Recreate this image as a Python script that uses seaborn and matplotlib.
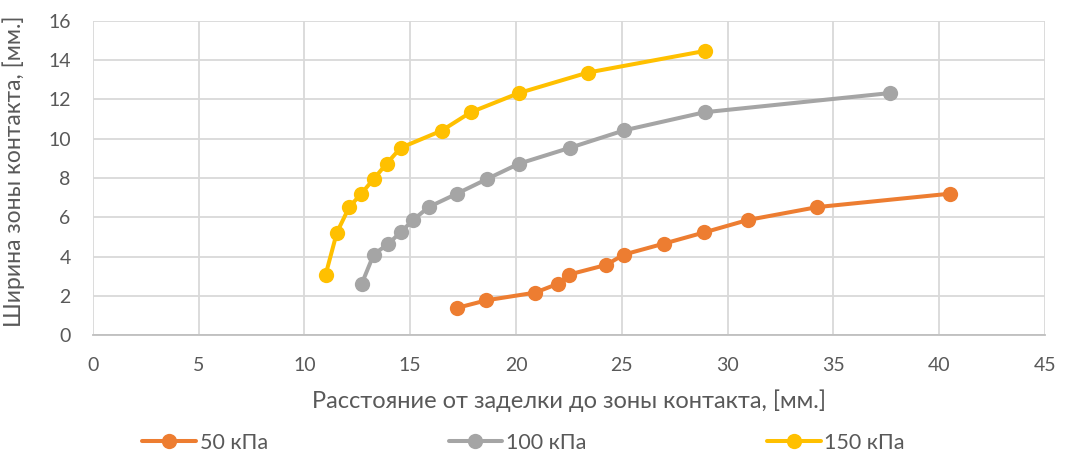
import pandas as pd
import numpy as np
import matplotlib
matplotlib.use("Agg")
import matplotlib.pyplot as plt
import seaborn as sns

# Data
x_50 = [17.2, 18.6, 20.9, 22.0, 22.5, 24.25, 25.1, 27.0, 28.9, 30.95, 34.25, 40.5]
y_50 = [1.38, 1.77, 2.16, 2.62, 3.08, 3.57, 4.1, 4.66, 5.23, 5.86, 6.52, 7.2]

x_100 = [12.7, 13.27, 13.97, 14.55, 15.13, 15.87, 17.2, 18.63, 20.14, 22.55, 25.12, 28.91, 37.7]
y_100 = [2.6, 4.1, 4.66, 5.24, 5.86, 6.52, 7.2, 7.95, 8.73, 9.54, 10.43, 11.35, 12.33]

x_150 = [11.0, 11.53, 12.11, 12.69, 13.27, 13.88, 14.55, 16.48, 17.86, 20.14, 23.39, 28.91]
y_150 = [3.08, 5.22, 6.51, 7.21, 7.95, 8.73, 9.54, 10.41, 11.35, 12.33, 13.37, 14.47]

series_names = ["50 кПа", "100 кПа", "150 кПа"]
colors = ["#ED7D31", "#A5A5A5", "#FFC000"]

df = pd.concat([
    pd.DataFrame({"x": x_50, "y": y_50, "series": series_names[0]}),
    pd.DataFrame({"x": x_100, "y": y_100, "series": series_names[1]}),
    pd.DataFrame({"x": x_150, "y": y_150, "series": series_names[2]}),
], ignore_index=True)

sns.set_style("white")
plt.rcParams["font.family"] = ["Lato", "DejaVu Sans"]
text_color = "#595959"

fig = plt.figure(figsize=(10.66, 4.66), dpi=100)
ax = fig.add_axes([0.0872, 0.281, 0.8930, 0.674])

sns.lineplot(data=df, x="x", y="y", hue="series", hue_order=series_names,
             palette=colors, sort=False, estimator=None, marker="o",
             markersize=11, markeredgewidth=0, linewidth=2.9, ax=ax, legend=True)

ax.set_xlim(0, 45)
ax.set_ylim(0, 16)
ax.set_xticks(np.arange(0, 46, 5))
ax.set_yticks(np.arange(0, 17, 2))
ax.grid(True, color="#D9D9D9", linewidth=1.3)
ax.set_axisbelow(True)
for s in ["left", "right", "top"]:
    ax.spines[s].set_visible(False)
ax.spines["bottom"].set_color("#BFBFBF")
ax.spines["bottom"].set_linewidth(1.3)
ax.tick_params(axis="both", length=0, labelsize=14, colors=text_color)
ax.tick_params(axis="x", pad=16)
ax.tick_params(axis="y", pad=16)

ax.set_xlabel("Расстояние от заделки до зоны контакта, [мм.]", fontsize=17,
              color=text_color, labelpad=11)
ax.set_ylabel("Ширина зоны контакта, [мм.]", fontsize=16.5, color=text_color)
ax.yaxis.set_label_coords(-0.071, 0.52)

handles, labels = ax.get_legend_handles_labels()
ax.legend_.remove()
fig.legend(handles, labels, loc="center", bbox_to_anchor=(0.491, 0.05), ncol=3,
           frameon=False, fontsize=15.5, handlelength=2.5, handletextpad=0.15,
           columnspacing=8.4, labelcolor=text_color)

fig.savefig("out.png", dpi=100)
